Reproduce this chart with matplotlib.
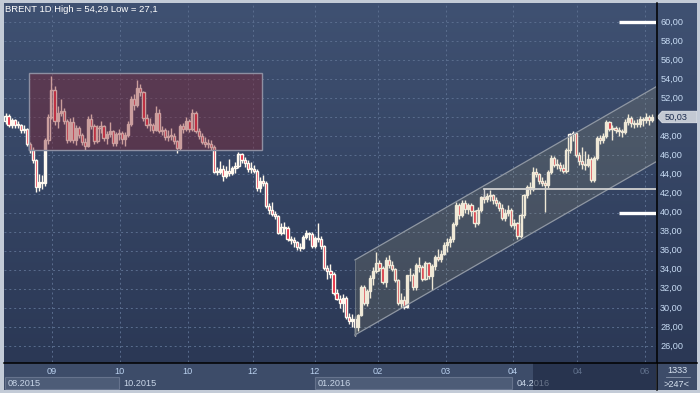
import numpy as np
import matplotlib
matplotlib.use("Agg")
import matplotlib.pyplot as plt
from matplotlib.patches import Rectangle, Polygon
from matplotlib.lines import Line2D

# --- daily candles, BRENT 1D ---
opens = [
    49.6, 50.1, 49.2, 49.7, 49.2, 49.2, 48.7, 48.8, 47.2, 46.6,
    45.5, 42.7, 43.2, 43.1, 47.6, 50.0, 52.9, 49.6, 50.5, 50.7,
    49.6, 47.6, 49.5, 47.6, 48.9, 48.1, 47.4, 47.0, 49.8, 49.1,
    47.5, 48.9, 49.1, 47.8, 48.2, 48.6, 47.3, 48.2, 48.4, 47.7,
    48.1, 49.3, 51.9, 51.3, 53.1, 52.7, 49.9, 49.2, 49.2, 48.7,
    50.5, 48.6, 48.7, 47.9, 48.0, 48.0, 47.5, 46.8, 49.1, 48.8,
    49.6, 48.8, 50.5, 48.6, 48.0, 47.4, 47.2, 47.2, 46.9, 44.3,
    44.3, 44.6, 43.8, 44.4, 44.2, 44.7, 44.9, 46.1, 45.5, 45.2,
    44.6, 44.6, 44.4, 42.6, 43.3, 43.1, 40.7, 40.3, 39.9, 39.6,
    37.9, 38.5, 38.4, 37.2, 37.1, 36.9, 36.4, 36.3, 37.4, 37.9,
    37.8, 36.5, 37.3, 37.2, 36.5, 34.2, 33.9, 33.6, 31.6, 30.9,
    30.5, 31.0, 29.0, 28.6, 28.8, 28.0, 29.3, 32.2, 30.5, 31.8,
    33.1, 33.9, 34.7, 34.2, 32.7, 35.0, 34.5, 34.1, 32.9, 30.5,
    30.8, 30.1, 33.4, 33.4, 32.2, 34.5, 34.3, 33.0, 34.7, 33.3,
    34.4, 35.3, 35.1, 35.7, 36.6, 36.9, 37.2, 38.8, 40.8, 39.7,
    41.0, 40.4, 40.8, 40.2, 38.9, 40.3, 41.6, 41.4, 41.7, 41.8,
    41.3, 41.0, 40.5, 39.4, 40.0, 40.3, 38.7, 38.9, 37.5, 39.7,
    41.8, 42.7, 42.5, 44.3, 44.0, 43.3, 43.1, 42.9, 44.3, 45.7,
    45.0, 45.0, 44.7, 44.4, 46.6, 48.2, 48.3, 46.0, 45.4, 45.1,
    45.0, 45.6, 43.4, 45.7, 47.8, 47.6, 48.0, 49.5, 48.8, 48.9,
    48.7, 48.6, 48.5, 49.5, 49.9, 49.4, 49.3, 49.3, 49.8, 49.7,
    50.0, 49.7,
]
highs = [
    50.4, 50.3, 49.9, 49.8, 49.6, 49.3, 49.2, 48.9, 47.4, 46.9,
    45.6, 44.0, 43.9, 47.8, 50.3, 54.29, 53.3, 51.2, 51.9, 51.0,
    49.8, 49.9, 50.0, 49.2, 49.1, 48.3, 47.8, 50.1, 50.3, 49.3,
    49.2, 49.6, 49.2, 48.6, 49.5, 48.7, 48.5, 48.8, 48.6, 48.5,
    49.6, 52.2, 52.4, 53.9, 53.5, 52.8, 50.3, 49.9, 49.4, 51.2,
    50.9, 49.1, 48.9, 48.7, 48.9, 48.3, 47.6, 49.3, 49.4, 50.0,
    49.8, 50.9, 50.7, 48.9, 48.4, 47.9, 47.7, 47.6, 47.1, 44.8,
    45.4, 45.0, 44.9, 45.6, 44.9, 45.3, 46.4, 46.3, 45.8, 45.5,
    45.3, 45.0, 44.6, 43.7, 43.9, 43.3, 41.0, 41.1, 40.2, 39.7,
    38.9, 39.0, 38.6, 37.5, 37.4, 37.0, 36.8, 37.6, 38.2, 38.0,
    38.0, 37.5, 38.9, 37.5, 36.6, 34.5, 34.6, 33.8, 32.0, 31.3,
    31.5, 31.2, 29.5, 29.4, 29.1, 29.4, 32.4, 32.4, 32.0, 33.4,
    34.3, 35.9, 35.0, 34.4, 35.3, 35.6, 34.9, 34.2, 33.0, 31.6,
    31.2, 33.5, 34.2, 33.7, 34.7, 35.3, 34.5, 34.9, 34.8, 34.6,
    35.6, 36.2, 36.1, 36.9, 37.3, 37.5, 39.0, 41.1, 41.0, 41.3,
    41.3, 41.0, 41.0, 40.3, 40.6, 41.7, 42.0, 42.1, 42.4, 41.9,
    41.6, 41.2, 40.9, 40.4, 40.8, 40.5, 39.3, 39.0, 39.9, 42.0,
    42.9, 43.2, 44.8, 44.7, 44.2, 43.7, 43.4, 44.5, 46.0, 45.9,
    45.6, 45.3, 45.1, 46.8, 48.4, 48.6, 48.3, 46.4, 46.9, 46.5,
    46.1, 45.8, 45.9, 48.0, 48.1, 48.3, 49.7, 49.6, 49.2, 49.1,
    49.0, 48.8, 49.8, 50.3, 50.1, 49.7, 49.8, 50.1, 50.0, 50.4,
    50.2, 50.3,
]
lows = [
    49.3, 49.0, 48.9, 48.9, 48.9, 48.4, 48.4, 47.0, 46.3, 45.2,
    42.2, 42.3, 42.5, 42.8, 47.2, 49.8, 49.2, 48.9, 50.1, 49.3,
    47.3, 47.4, 47.3, 47.1, 47.8, 47.1, 46.6, 46.9, 48.8, 47.2,
    47.3, 48.4, 47.5, 47.2, 47.9, 47.0, 47.0, 47.6, 47.2, 47.0,
    47.9, 49.1, 50.8, 51.1, 52.2, 49.6, 48.9, 48.6, 48.3, 48.6,
    48.4, 48.1, 47.6, 47.5, 47.6, 47.2, 46.3, 46.6, 48.4, 48.6,
    48.5, 48.6, 48.4, 47.7, 47.2, 46.9, 46.8, 46.6, 44.1, 43.9,
    44.0, 43.3, 43.6, 43.8, 43.9, 44.2, 44.7, 45.2, 44.8, 44.3,
    44.1, 44.1, 42.3, 42.2, 42.8, 40.5, 39.8, 39.6, 39.3, 37.7,
    37.6, 37.8, 37.0, 36.7, 36.4, 36.1, 36.0, 36.2, 37.2, 37.1,
    36.3, 36.3, 36.9, 36.2, 34.0, 33.0, 33.1, 31.4, 30.8, 30.0,
    29.6, 28.8, 28.3, 28.0, 27.1, 27.6, 29.1, 30.3, 30.2, 31.0,
    32.4, 33.7, 33.9, 32.5, 32.2, 34.2, 33.9, 32.7, 30.3, 30.0,
    29.9, 30.0, 32.8, 31.9, 31.9, 33.8, 32.8, 32.9, 33.0, 31.9,
    34.0, 34.9, 34.8, 35.5, 35.9, 36.4, 36.9, 38.6, 39.3, 39.5,
    40.0, 39.9, 39.6, 38.5, 38.7, 40.1, 41.0, 41.1, 41.2, 40.9,
    40.7, 40.2, 39.2, 39.1, 39.6, 38.5, 38.3, 37.2, 37.3, 39.4,
    41.5, 42.0, 42.3, 43.7, 43.0, 42.8, 40.1, 42.6, 44.0, 44.8,
    44.6, 44.4, 44.1, 44.2, 46.3, 47.5, 45.8, 45.0, 44.6, 44.5,
    44.8, 43.2, 43.2, 45.5, 47.2, 47.3, 47.8, 48.6, 47.6, 48.3,
    48.0, 47.9, 48.2, 49.2, 49.0, 48.9, 49.0, 49.0, 49.1, 49.4,
    49.2, 49.5,
]
closes = [
    50.1, 49.2, 49.7, 49.2, 49.2, 48.7, 48.8, 47.2, 46.6, 45.5,
    42.7, 43.2, 43.1, 47.6, 50.0, 52.9, 49.6, 50.5, 50.7, 49.6,
    47.6, 49.5, 47.6, 48.9, 48.1, 47.4, 47.0, 49.8, 49.1, 47.5,
    48.9, 49.1, 47.8, 48.2, 48.6, 47.3, 48.2, 48.4, 47.7, 48.1,
    49.3, 51.9, 51.3, 53.1, 52.7, 49.9, 49.2, 49.2, 48.7, 50.5,
    48.6, 48.7, 47.9, 48.0, 48.0, 47.5, 46.8, 49.1, 48.8, 49.6,
    48.8, 50.5, 48.6, 48.0, 47.4, 47.2, 47.2, 46.9, 44.3, 44.3,
    44.6, 43.8, 44.4, 44.2, 44.7, 44.9, 46.1, 45.5, 45.2, 44.6,
    44.6, 44.4, 42.6, 43.3, 43.1, 40.7, 40.3, 39.9, 39.6, 37.9,
    38.5, 38.4, 37.2, 37.1, 36.9, 36.4, 36.3, 37.4, 37.9, 37.8,
    36.5, 37.3, 37.2, 36.5, 34.2, 33.9, 33.6, 31.6, 30.9, 30.5,
    31.0, 29.0, 28.6, 28.8, 28.0, 29.3, 32.2, 30.5, 31.8, 33.1,
    33.9, 34.7, 34.2, 32.7, 35.0, 34.5, 34.1, 32.9, 30.5, 30.8,
    30.1, 33.4, 33.4, 32.2, 34.5, 34.3, 33.0, 34.7, 33.3, 34.4,
    35.3, 35.1, 35.7, 36.6, 36.9, 37.2, 38.8, 40.8, 39.7, 41.0,
    40.4, 40.8, 40.2, 38.9, 40.3, 41.6, 41.4, 41.7, 41.8, 41.3,
    41.0, 40.5, 39.4, 40.0, 40.3, 38.7, 38.9, 37.5, 39.7, 41.8,
    42.7, 42.5, 44.3, 44.0, 43.3, 43.1, 42.9, 44.3, 45.7, 45.0,
    45.0, 44.7, 44.4, 46.6, 48.2, 48.3, 46.0, 45.4, 45.1, 45.0,
    45.6, 43.4, 45.7, 47.8, 47.6, 48.0, 49.5, 48.8, 48.9, 48.7,
    48.6, 48.5, 49.5, 49.9, 49.4, 49.3, 49.3, 49.8, 49.7, 50.0,
    49.7, 50.03,
]

month_labels = ["09", "10", "10", "12", "12", "02", "03", "04", "04", "06"]
period_labels = ["08.2015", "10.2015", "01.2016", "04.2016"]
price_levels = list(range(26, 61, 2))
last_price = 50.03
title = "BRENT 1D High = 54,29 Low = 27,1"

# drawing objects (price / candle index coordinates)
zone_box = dict(x0=7.7, x1=83.7, low=46.57, high=54.65)
channel = dict(x0=114.0, x1=216.0, upper0=35.03, lower0=27.16, slope=0.185)
level_line = dict(x0=156.1, price=42.48, tick_low=41.6)
marks = [60.0, 40.0]

# --- layout helpers (pixel based) ---
W, H = 700, 393
fig = plt.figure(figsize=(W / 100, H / 100), dpi=100)
fig.patch.set_facecolor("#c3cbd7")
FONT = "Liberation Sans"
PANEL = "#3d4c69"


def px_axes(x0, y0, x1, y1):
    return fig.add_axes([x0 / W, 1 - y1 / H, (x1 - x0) / W, (y1 - y0) / H])


def fig_line(x0, y0, x1, y1, **kw):
    fig.add_artist(Line2D([x0 / W, x1 / W], [1 - y0 / H, 1 - y1 / H],
                          transform=fig.transFigure, **kw))


def panel_bg(a):
    a.add_patch(Rectangle((0, 0), 1, 1, transform=a.transAxes,
                          facecolor=PANEL, edgecolor="none", zorder=0))


XLIM = (-0.49, 212.2)
YLIM = (24.32, 61.99)

# gradient background behind chart + price scale
bg = px_axes(4, 3, 697, 363)
top = np.array([0x3f, 0x51, 0x72]) / 255
bot = np.array([0x2b, 0x38, 0x55]) / 255
t = np.linspace(0, 1, 256)[:, None]
grad = (top[None, :] * (1 - t) + bot[None, :] * t)[:, None, :]
bg.imshow(grad, aspect="auto", extent=(0, 1, 0, 1), origin="upper")
bg.set_axis_off()

ax = px_axes(4, 3, 656, 362)
ax.set_facecolor("none")
ax.set_xlim(*XLIM)
ax.set_ylim(*YLIM)
for s in ax.spines.values():
    s.set_visible(False)
ax.set_xticks([])
ax.set_yticks([])

# grid
grid_x = [15.2, 37.3, 59.5, 80.7, 100.9, 121.4, 143.7, 165.5, 186.5, 208.6]
for p in price_levels:
    ax.axhline(p, color="#5a6d8e", lw=0.7, ls=(0, (2, 3)), zorder=1)
for gx in grid_x:
    ax.axvline(gx, color="#5a6d8e", lw=0.7, ls=(0, (2, 3)), zorder=1)

# candles
idx = np.arange(len(closes))
o = np.array(opens)
c = np.array(closes)
h = np.array(highs)
l = np.array(lows)
ax.vlines(idx, l, h, color="#fff8ec", lw=1.0, zorder=3)
down = c < o
body_low = np.minimum(o, c)
body_h = np.maximum(np.abs(c - o), 0.1)
face = np.where(down, "#e3102c", "none")
ax.bar(idx, body_h, bottom=body_low, width=0.72, color=list(face),
       edgecolor="#fffaf0", linewidth=1.0, zorder=4)

# red consolidation zone
ax.add_patch(Rectangle((zone_box["x0"], zone_box["low"]),
                       zone_box["x1"] - zone_box["x0"],
                       zone_box["high"] - zone_box["low"],
                       facecolor="#84222f", alpha=0.42, edgecolor="none", zorder=5))
ax.add_patch(Rectangle((zone_box["x0"], zone_box["low"]),
                       zone_box["x1"] - zone_box["x0"],
                       zone_box["high"] - zone_box["low"],
                       facecolor="none", edgecolor="#8d8fa2", lw=1.0, zorder=6))

# rising channel
cx0, cx1 = channel["x0"], channel["x1"]
span = (cx1 - cx0) * channel["slope"]
pts = [(cx0, channel["upper0"]), (cx1, channel["upper0"] + span),
       (cx1, channel["lower0"] + span), (cx0, channel["lower0"])]
ax.add_patch(Polygon(pts, closed=True, facecolor="#a8a070", alpha=0.18,
                     edgecolor="none", zorder=5))
ax.plot([cx0, cx1], [channel["upper0"], channel["upper0"] + span],
        color="#8f97a3", lw=0.9, zorder=6)
ax.plot([cx0, cx1], [channel["lower0"], channel["lower0"] + span],
        color="#8f97a3", lw=0.9, zorder=6)
ax.plot([cx0, cx0], [channel["lower0"], channel["upper0"]],
        color="#6f7a86", lw=0.6, zorder=6)

# horizontal level
ax.plot([level_line["x0"], XLIM[1]], [level_line["price"]] * 2,
        color="#d0d0d0", lw=1.3, zorder=7)
ax.plot([level_line["x0"]] * 2, [level_line["price"], level_line["tick_low"]],
        color="#d0d0d0", lw=1.0, zorder=7)

# white marks on the right edge
for m in marks:
    ax.plot([200.1, XLIM[1]], [m, m], color="white", lw=2.4,
            solid_capstyle="butt", zorder=7)

# price scale (the last-price tag hides the level it sits on)
pax = px_axes(657, 3, 697, 362)
pax.set_facecolor("none")
pax.set_xlim(0, 1)
pax.set_ylim(*YLIM)
pax.set_axis_off()
for p in price_levels:
    if abs(p - last_price) < 1.0:
        continue
    pax.text(0.08, p, f"{p},00", color="#c8dcf4", fontsize=6.6,
             family=FONT, va="center", ha="left", zorder=1)
tag = [(0.0, last_price), (0.13, last_price + 0.6), (1.0, last_price + 0.6),
       (1.0, last_price - 0.6), (0.13, last_price - 0.6)]
pax.add_patch(Polygon(tag, closed=True, facecolor="#c3c9d3",
                      edgecolor="#e0e4ea", lw=0.6, zorder=3))
pax.text(0.2, last_price, f"{last_price:.2f}".replace(".", ","),
         color="#1d2d4f", fontsize=6.6, family=FONT, va="center",
         ha="left", zorder=4)

# time axis
tax = px_axes(4, 363, 656, 390)
tax.set_xlim(*XLIM)
tax.set_ylim(0, 1)
tax.set_axis_off()
panel_bg(tax)
tax.add_patch(Rectangle((-0.16, 0.02), 37.2, 0.46, facecolor="#4d5c77",
                        edgecolor="#66738d", lw=0.8, zorder=1))
tax.add_patch(Rectangle((100.9, 0.02), 64.4, 0.46, facecolor="#4d5c77",
                        edgecolor="#66738d", lw=0.8, zorder=1))
for gx, lab in zip(grid_x, month_labels):
    tax.text(gx, 0.68, lab, color="#b9d0ee", fontsize=6.6, family=FONT,
             ha="center", va="center", zorder=2)
for px0, lab in zip([0.6, 38.3, 101.9, 166.8], period_labels):
    tax.text(px0, 0.25, lab, color="#c9d6e8", fontsize=6.6, family=FONT,
             ha="left", va="center", zorder=2)
tax.add_patch(Rectangle((172.0, 0), XLIM[1] - 172.0, 1, facecolor="#18223b",
                        alpha=0.55, edgecolor="none", zorder=5))

# corner box
cax = px_axes(657, 363, 697, 390)
cax.set_xlim(0, 1)
cax.set_ylim(0, 1)
cax.set_axis_off()
panel_bg(cax)
cax.text(0.5, 0.74, "1333", color="#d7e2f0", fontsize=6.6, family=FONT,
         ha="center", va="center")
cax.plot([0.22, 0.82], [0.47, 0.47], color="#8a97ad", lw=0.6)
cax.text(0.5, 0.22, ">247<", color="#d7e2f0", fontsize=6.6, family=FONT,
         ha="center", va="center")

# separators
fig_line(4, 362.5, 697, 362.5, color="black", lw=1.1)
fig_line(656.5, 3, 656.5, 390, color="black", lw=1.1)

fig.text(5 / W, 1 - 9 / H, title, color="white", fontsize=6.8, family=FONT,
         ha="left", va="center")

fig.savefig("out.png", dpi=100, facecolor=fig.get_facecolor())
